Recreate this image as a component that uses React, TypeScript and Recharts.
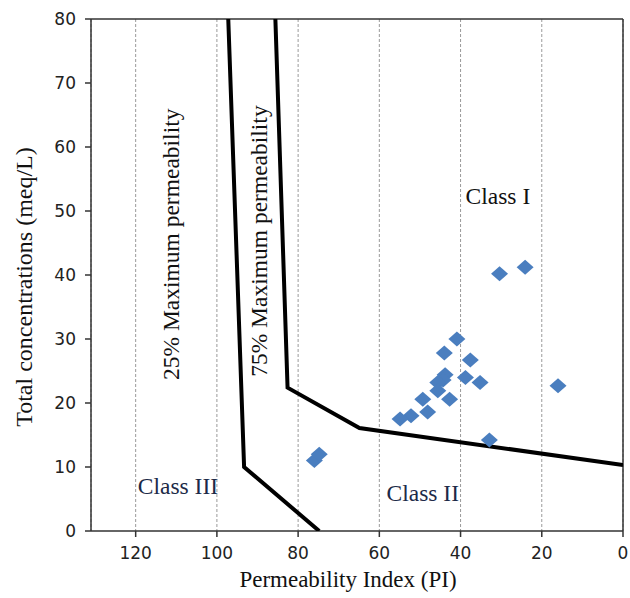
import {
  ScatterChart,
  Scatter,
  XAxis,
  YAxis,
  CartesianGrid,
  ReferenceLine,
  ReferenceDot,
  Label,
} from "recharts";

// sample points: permeability index vs total concentration
const samples = [
  { pi: 40.9, tc: 30.0 },
  { pi: 44.0, tc: 27.8 },
  { pi: 37.6, tc: 26.7 },
  { pi: 43.8, tc: 24.4 },
  { pi: 44.3, tc: 23.6 },
  { pi: 45.6, tc: 23.2 },
  { pi: 38.8, tc: 24.0 },
  { pi: 35.2, tc: 23.2 },
  { pi: 45.6, tc: 21.9 },
  { pi: 42.7, tc: 20.6 },
  { pi: 49.3, tc: 20.6 },
  { pi: 48.1, tc: 18.6 },
  { pi: 52.2, tc: 18.0 },
  { pi: 54.9, tc: 17.5 },
  { pi: 32.9, tc: 14.2 },
  { pi: 30.4, tc: 40.2 },
  { pi: 24.1, tc: 41.2 },
  { pi: 16.0, tc: 22.7 },
  { pi: 76.0, tc: 11.0 },
  { pi: 74.8, tc: 12.0 },
];

// class boundaries
const line25 = [
  { pi: 97.2, tc: 80 },
  { pi: 93.3, tc: 10 },
  { pi: 74.8, tc: 0 },
];
const line75 = [
  { pi: 85.6, tc: 80 },
  { pi: 82.6, tc: 22.4 },
  { pi: 64.9, tc: 16.1 },
  { pi: 0, tc: 10.3 },
];

const xTicks = [0, 20, 40, 60, 80, 100, 120];
const yTicks = [0, 10, 20, 30, 40, 50, 60, 70, 80];

const notes = [
  { text: "Class I", pi: 30.8, tc: 52.3, color: "#111", rotate: false },
  { text: "Class II", pi: 49.3, tc: 6.0, color: "#1c2a48", rotate: false },
  { text: "Class III", pi: 109.6, tc: 7.0, color: "#1c2a48", rotate: false },
  { text: "25% Maximum permeability", pi: 111.3, tc: 44.8, color: "#111", rotate: true },
  { text: "75% Maximum permeability", pi: 89.6, tc: 45.3, color: "#111", rotate: true },
];

const serif = "'Liberation Serif', 'Times New Roman', serif";
const tickStyle = { fontSize: 17, fill: "#222", fontFamily: "'DejaVu Sans', sans-serif" };

function Diamond(props: any) {
  const { cx, cy } = props;
  if (cx == null || cy == null) return <g />;
  return (
    <path
      d={`M${cx},${cy - 7.5} L${cx + 8.5},${cy} L${cx},${cy + 7.5} L${cx - 8.5},${cy} Z`}
      fill="#4a7ebf"
    />
  );
}

export default function App() {
  return (
    <div style={{ position: "absolute", left: 0, top: 0, background: "#fff" }}>
      <ScatterChart
        width={630}
        height={598}
        margin={{ top: 19, right: 7, bottom: 0, left: 0 }}
      >
        <CartesianGrid
          horizontal={false}
          stroke="#9a9a9a"
          strokeDasharray="3 2"
        />
        <XAxis
          type="number"
          dataKey="pi"
          domain={[0, 131]}
          reversed
          ticks={xTicks}
          height={67}
          tick={tickStyle}
          tickSize={6}
          tickMargin={10}
          stroke="#333"
          strokeWidth={1.5}
          allowDataOverflow
        >
          <Label
            content={() => (
              <text
                x={348}
                y={587}
                textAnchor="middle"
                fontFamily={serif}
                fontSize={23}
                fill="#111"
              >
                Permeability Index (PI)
              </text>
            )}
          />
        </XAxis>
        <YAxis
          type="number"
          dataKey="tc"
          domain={[0, 80]}
          ticks={yTicks}
          width={91}
          tick={tickStyle}
          tickSize={6}
          tickMargin={9}
          stroke="#333"
          strokeWidth={1.5}
          allowDataOverflow
        >
          <Label
            content={() => (
              <text
                x={32}
                y={287}
                transform="rotate(-90 32 287)"
                textAnchor="middle"
                fontFamily={serif}
                fontSize={24}
                fill="#111"
              >
                Total concentrations (meq/L)
              </text>
            )}
          />
        </YAxis>
        <ReferenceLine y={80} stroke="#333" strokeWidth={1.5} ifOverflow="visible" />
        <ReferenceLine x={0} stroke="#333" strokeWidth={1.5} ifOverflow="visible" />
        <Scatter
          data={line25}
          line={{ stroke: "#000", strokeWidth: 4 }}
          shape={() => <g />}
          isAnimationActive={false}
        />
        <Scatter
          data={line75}
          line={{ stroke: "#000", strokeWidth: 4 }}
          shape={() => <g />}
          isAnimationActive={false}
        />
        <Scatter data={samples} shape={Diamond} isAnimationActive={false} />
        {notes.map((n) => (
          <ReferenceDot
            key={n.text}
            x={n.pi}
            y={n.tc}
            r={0}
            ifOverflow="visible"
            shape={(p: any) => (
              <text
                x={p.cx}
                y={p.cy}
                transform={n.rotate ? `rotate(-90 ${p.cx} ${p.cy})` : undefined}
                textAnchor="middle"
                dominantBaseline="central"
                fontFamily={serif}
                fontSize={23.5}
                fill={n.color}
              >
                {n.text}
              </text>
            )}
          />
        ))}
      </ScatterChart>
    </div>
  );
}
